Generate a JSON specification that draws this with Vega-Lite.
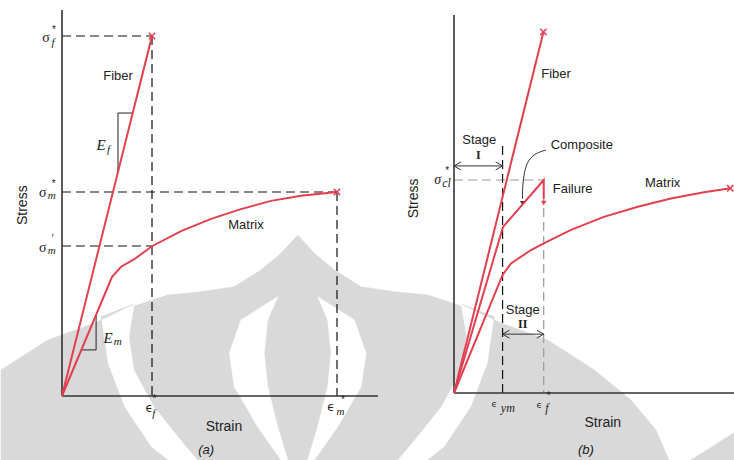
{
  "$schema": "https://vega.github.io/schema/vega-lite/v6.json",
  "padding": 0,
  "spacing": 0,
  "bounds": "flush",
  "background": "white",
  "config": {"view": {"stroke": null}},
  "datasets": {
    "wm_grey": [
      {"s": "body", "i": 0, "x": 49.35, "y": -17.78},
      {"s": "body", "i": 1, "x": 43.27, "y": -12.22},
      {"s": "body", "i": 2, "x": 33.56, "y": -2.97},
      {"s": "body", "i": 3, "x": 26.29, "y": 7.22},
      {"s": "body", "i": 4, "x": 24.47, "y": 16.47},
      {"s": "body", "i": 5, "x": 26.29, "y": 25.0},
      {"s": "body", "i": 6, "x": 38.44, "y": 28.06},
      {"s": "body", "i": 7, "x": 50.55, "y": 28.97},
      {"s": "body", "i": 8, "x": 62.65, "y": 30.36},
      {"s": "body", "i": 9, "x": 72.36, "y": 35.0},
      {"s": "body", "i": 10, "x": 79.64, "y": 39.64},
      {"s": "body", "i": 11, "x": 85.71, "y": 44.72},
      {"s": "body", "i": 12, "x": 91.78, "y": 39.64},
      {"s": "body", "i": 13, "x": 99.05, "y": 35.0},
      {"s": "body", "i": 14, "x": 108.76, "y": 30.36},
      {"s": "body", "i": 15, "x": 120.87, "y": 28.97},
      {"s": "body", "i": 16, "x": 132.98, "y": 28.06},
      {"s": "body", "i": 17, "x": 145.13, "y": 25.0},
      {"s": "body", "i": 18, "x": 146.95, "y": 16.47},
      {"s": "body", "i": 19, "x": 145.13, "y": 7.22},
      {"s": "body", "i": 20, "x": 137.85, "y": -2.97},
      {"s": "body", "i": 21, "x": 128.15, "y": -12.22},
      {"s": "body", "i": 22, "x": 122.07, "y": -17.78},
      {"s": "lwing", "i": 0, "x": 26.18, "y": 25.56},
      {"s": "lwing", "i": 1, "x": 11.85, "y": 20.28},
      {"s": "lwing", "i": 2, "x": -5.16, "y": 15.56},
      {"s": "lwing", "i": 3, "x": -22.18, "y": 7.22},
      {"s": "lwing", "i": 4, "x": -22.18, "y": -17.78},
      {"s": "lwing", "i": 5, "x": 38.44, "y": -17.78},
      {"s": "lwing", "i": 6, "x": 32.36, "y": -14.08},
      {"s": "lwing", "i": 7, "x": 22.65, "y": -2.97},
      {"s": "lwing", "i": 8, "x": 16.62, "y": 9.08},
      {"s": "lwing", "i": 9, "x": 14.18, "y": 22.03},
      {"s": "rwing", "i": 0, "x": 145.24, "y": 25.56},
      {"s": "rwing", "i": 1, "x": 159.56, "y": 20.28},
      {"s": "rwing", "i": 2, "x": 176.58, "y": 15.56},
      {"s": "rwing", "i": 3, "x": 193.6, "y": 7.22},
      {"s": "rwing", "i": 4, "x": 206.91, "y": -1.11},
      {"s": "rwing", "i": 5, "x": 216.0, "y": -9.44},
      {"s": "rwing", "i": 6, "x": 220.73, "y": -17.78},
      {"s": "rwing", "i": 7, "x": 132.98, "y": -17.78},
      {"s": "rwing", "i": 8, "x": 139.05, "y": -14.08},
      {"s": "rwing", "i": 9, "x": 148.76, "y": -2.97},
      {"s": "rwing", "i": 10, "x": 154.8, "y": 9.08},
      {"s": "rwing", "i": 11, "x": 157.24, "y": 22.03},
      {"s": "corner", "i": 0, "x": 228.7, "y": -17.78},
      {"s": "corner", "i": 1, "x": 244.73, "y": -10.0},
      {"s": "corner", "i": 2, "x": 244.73, "y": -17.78}
    ],
    "wm_white": [
      {"s": "llens", "i": 0, "x": 78.44, "y": 27.58},
      {"s": "llens", "i": 1, "x": 65.09, "y": 21.11},
      {"s": "llens", "i": 2, "x": 60.84, "y": 11.86},
      {"s": "llens", "i": 3, "x": 62.65, "y": 2.58},
      {"s": "llens", "i": 4, "x": 71.16, "y": -8.53},
      {"s": "llens", "i": 5, "x": 79.64, "y": -17.78},
      {"s": "llens", "i": 6, "x": 82.07, "y": -17.78},
      {"s": "llens", "i": 7, "x": 78.44, "y": -8.53},
      {"s": "llens", "i": 8, "x": 74.8, "y": 2.58},
      {"s": "llens", "i": 9, "x": 73.56, "y": 11.86},
      {"s": "llens", "i": 10, "x": 74.8, "y": 21.11},
      {"s": "rlens", "i": 0, "x": 92.98, "y": 27.58},
      {"s": "rlens", "i": 1, "x": 106.33, "y": 21.11},
      {"s": "rlens", "i": 2, "x": 110.58, "y": 11.86},
      {"s": "rlens", "i": 3, "x": 108.76, "y": 2.58},
      {"s": "rlens", "i": 4, "x": 100.25, "y": -8.53},
      {"s": "rlens", "i": 5, "x": 91.78, "y": -17.78},
      {"s": "rlens", "i": 6, "x": 89.35, "y": -17.78},
      {"s": "rlens", "i": 7, "x": 92.98, "y": -8.53},
      {"s": "rlens", "i": 8, "x": 96.62, "y": 2.58},
      {"s": "rlens", "i": 9, "x": 97.85, "y": 11.86},
      {"s": "rlens", "i": 10, "x": 96.62, "y": 21.11}
    ],
    "a_axes": [
      {"x": 0, "y": 0, "x2": 0, "y2": 107.2},
      {"x": 0, "y": 0, "x2": 114.9, "y2": 0}
    ],
    "a_dash": [
      {"x": 0, "y": 100, "x2": 32.73, "y2": 100},
      {"x": 32.73, "y": 100, "x2": 32.73, "y2": 0},
      {"x": 0, "y": 56.67, "x2": 100, "y2": 56.67},
      {"x": 100, "y": 56.67, "x2": 100, "y2": 0},
      {"x": 0, "y": 41.67, "x2": 32.73, "y2": 41.67}
    ],
    "a_red": [
      {"s": "fiber", "i": 0, "x": 0, "y": 0},
      {"s": "fiber", "i": 1, "x": 32.73, "y": 100},
      {"s": "matrix", "i": 0, "x": 0, "y": 0},
      {"s": "matrix", "i": 1, "x": 18.2, "y": 33.1},
      {"s": "matrix", "i": 2, "x": 21.5, "y": 35.9},
      {"s": "matrix", "i": 3, "x": 26.3, "y": 38.0},
      {"s": "matrix", "i": 4, "x": 32.7, "y": 41.6},
      {"s": "matrix", "i": 5, "x": 43.3, "y": 45.8},
      {"s": "matrix", "i": 6, "x": 54.2, "y": 49.2},
      {"s": "matrix", "i": 7, "x": 65.1, "y": 51.9},
      {"s": "matrix", "i": 8, "x": 76.0, "y": 54.2},
      {"s": "matrix", "i": 9, "x": 86.9, "y": 55.6},
      {"s": "matrix", "i": 10, "x": 100, "y": 56.67}
    ],
    "a_tri": [
      {"s": "ef", "i": 0, "x": 20.36, "y": 62.2},
      {"s": "ef", "i": 1, "x": 20.36, "y": 78.6},
      {"s": "ef", "i": 2, "x": 25.7, "y": 78.6},
      {"s": "em", "i": 0, "x": 7.03, "y": 12.8},
      {"s": "em", "i": 1, "x": 12.4, "y": 12.8},
      {"s": "em", "i": 2, "x": 12.4, "y": 22.5}
    ],
    "a_ends": [
      {"x": 32.73, "y": 100},
      {"x": 100, "y": 56.67}
    ],
    "a_text": [
      {"k": "lab", "t": "Fiber", "x": 20.4, "y": 88.9},
      {"k": "lab", "t": "Matrix", "x": 66.9, "y": 47.5},
      {"k": "big", "t": "Strain", "x": 58.9, "y": -8.6},
      {"k": "rot", "t": "Stress", "x": -14.3, "y": 53.0},
      {"k": "cap", "t": "(a)", "x": 52.4, "y": -15.0},
      {"k": "sym", "t": "σ", "x": -5.82, "y": 99.44},
      {"k": "sym", "t": "σ", "x": -7.02, "y": 56.3},
      {"k": "sym", "t": "σ", "x": -7.02, "y": 41.03},
      {"k": "eps", "t": "ϵ", "x": 31.75, "y": -3.2},
      {"k": "eps", "t": "ϵ", "x": 97.8, "y": -3.06},
      {"k": "isym", "t": "E", "x": 14.2, "y": 69.7},
      {"k": "isym", "t": "E", "x": 16.8, "y": 16.0},
      {"k": "sub", "t": "f", "x": -3.27, "y": 98.06},
      {"k": "sub", "t": "m", "x": -3.75, "y": 55.56},
      {"k": "sub", "t": "m", "x": -3.75, "y": 40.36},
      {"k": "sub", "t": "f", "x": 33.35, "y": -5.0},
      {"k": "sub", "t": "m", "x": 101.3, "y": -4.44},
      {"k": "sub", "t": "f", "x": 16.9, "y": 68.4},
      {"k": "sub", "t": "m", "x": 20.3, "y": 15.1},
      {"k": "sup", "t": "*", "x": -2.91, "y": 101.6},
      {"k": "sup", "t": "*", "x": -3.02, "y": 58.8},
      {"k": "sup", "t": "'", "x": -3.38, "y": 43.7},
      {"k": "sup", "t": "*", "x": 33.6, "y": -0.9},
      {"k": "sup", "t": "*", "x": 102.2, "y": -1.1}
    ],
    "b_axes": [
      {"x": 0, "y": 0, "x2": 0, "y2": 104.7},
      {"x": 0, "y": 0, "x2": 101.8, "y2": 0}
    ],
    "b_dash_black": [
      {"x": 17.6, "y": 68.4, "x2": 17.6, "y2": 0}
    ],
    "b_dash_grey": [
      {"x": 0, "y": 59.0, "x2": 32.5, "y2": 59.0},
      {"x": 32.5, "y": 59.0, "x2": 32.5, "y2": 0}
    ],
    "b_red": [
      {"s": "fiber", "i": 0, "x": 0, "y": 0},
      {"s": "fiber", "i": 1, "x": 32.4, "y": 100},
      {"s": "matrix", "i": 0, "x": 0, "y": 0},
      {"s": "matrix", "i": 1, "x": 17.6, "y": 32.7},
      {"s": "matrix", "i": 2, "x": 20.65, "y": 35.9},
      {"s": "matrix", "i": 3, "x": 27.9, "y": 39.6},
      {"s": "matrix", "i": 4, "x": 32.7, "y": 41.5},
      {"s": "matrix", "i": 5, "x": 42.4, "y": 45.2},
      {"s": "matrix", "i": 6, "x": 54.3, "y": 48.8},
      {"s": "matrix", "i": 7, "x": 66.6, "y": 51.6},
      {"s": "matrix", "i": 8, "x": 78.6, "y": 53.9},
      {"s": "matrix", "i": 9, "x": 90.6, "y": 55.6},
      {"s": "matrix", "i": 10, "x": 100.1, "y": 56.7},
      {"s": "composite", "i": 0, "x": 0, "y": 0},
      {"s": "composite", "i": 1, "x": 17.75, "y": 46.0},
      {"s": "composite", "i": 2, "x": 32.5, "y": 59.0},
      {"s": "composite", "i": 3, "x": 32.5, "y": 53.8}
    ],
    "b_ends": [
      {"x": 32.4, "y": 100},
      {"x": 100.1, "y": 56.7}
    ],
    "b_redhead": [
      {"x": 32.5, "y": 52.6}
    ],
    "b_arrows": [
      {"s": "s1", "i": 0, "x": 0, "y": 62.9},
      {"s": "s1", "i": 1, "x": 17.6, "y": 62.9},
      {"s": "s1l", "i": 0, "x": 2.5, "y": 64.0},
      {"s": "s1l", "i": 1, "x": 0, "y": 62.9},
      {"s": "s1l", "i": 2, "x": 2.5, "y": 61.8},
      {"s": "s1r", "i": 0, "x": 15.1, "y": 64.0},
      {"s": "s1r", "i": 1, "x": 17.6, "y": 62.9},
      {"s": "s1r", "i": 2, "x": 15.1, "y": 61.8},
      {"s": "s2", "i": 0, "x": 17.6, "y": 16.3},
      {"s": "s2", "i": 1, "x": 32.5, "y": 16.3},
      {"s": "s2l", "i": 0, "x": 20.1, "y": 17.4},
      {"s": "s2l", "i": 1, "x": 17.6, "y": 16.3},
      {"s": "s2l", "i": 2, "x": 20.1, "y": 15.2},
      {"s": "s2r", "i": 0, "x": 30.0, "y": 17.4},
      {"s": "s2r", "i": 1, "x": 32.5, "y": 16.3},
      {"s": "s2r", "i": 2, "x": 30.0, "y": 15.2}
    ],
    "b_curve": [
      {"i": 0, "x": 33.3, "y": 67.3},
      {"i": 1, "x": 29.7, "y": 66.5},
      {"i": 2, "x": 26.8, "y": 64.5},
      {"i": 3, "x": 25.4, "y": 61.2},
      {"i": 4, "x": 24.8, "y": 56.8},
      {"i": 5, "x": 24.8, "y": 53.8}
    ],
    "b_curvehead": [
      {"x": 24.8, "y": 52.6}
    ],
    "b_text": [
      {"k": "lab", "t": "Fiber", "x": 36.96, "y": 88.4},
      {"k": "lab", "t": "Composite", "x": 46.3, "y": 68.7},
      {"k": "lab", "t": "Failure", "x": 43.0, "y": 56.5},
      {"k": "lab", "t": "Matrix", "x": 75.6, "y": 58.3},
      {"k": "lab", "t": "Stage", "x": 9.17, "y": 70.1},
      {"k": "lab", "t": "Stage", "x": 24.9, "y": 23.0},
      {"k": "num", "t": "I", "x": 8.8, "y": 65.9},
      {"k": "num", "t": "II", "x": 24.9, "y": 19.0},
      {"k": "big", "t": "Strain", "x": 53.9, "y": -8.2},
      {"k": "rot", "t": "Stress", "x": -14.4, "y": 53.9},
      {"k": "cap", "t": "(b)", "x": 47.8, "y": -15.8},
      {"k": "isym", "t": "σ", "x": -5.9, "y": 59.0},
      {"k": "eps", "t": "ϵ", "x": 14.6, "y": -3.05},
      {"k": "eps", "t": "ϵ", "x": 30.9, "y": -3.3},
      {"k": "sub", "t": "cl", "x": -2.7, "y": 58.1},
      {"k": "sub", "t": "ym", "x": 19.5, "y": -4.2},
      {"k": "sub", "t": "f", "x": 33.7, "y": -4.2},
      {"k": "sup", "t": "*", "x": -2.5, "y": 61.4},
      {"k": "sup", "t": "*", "x": 34.3, "y": -0.9}
    ]
  },
  "hconcat": [
    {
      "width": 385,
      "height": 460,
      "encoding": {
        "x": {"field": "x", "type": "quantitative", "scale": {"domain": [-22.18, 117.82], "nice": false, "zero": false}, "axis": null},
        "y": {"field": "y", "type": "quantitative", "scale": {"domain": [-17.78, 110], "nice": false, "zero": false}, "axis": null}
      },
      "layer": [
        {"data": {"name": "wm_grey"}, "mark": {"type": "line", "interpolate": "linear-closed", "fill": "#d9d9d9", "stroke": "#d9d9d9", "strokeWidth": 0.5}, "encoding": {"detail": {"field": "s"}, "order": {"field": "i"}}},
        {"data": {"name": "wm_white"}, "mark": {"type": "line", "interpolate": "linear-closed", "fill": "#ffffff", "stroke": "#ffffff", "strokeWidth": 0.5}, "encoding": {"detail": {"field": "s"}, "order": {"field": "i"}}},
        {"data": {"name": "a_dash"}, "mark": {"type": "rule", "color": "#111", "strokeWidth": 1.2, "strokeDash": [9, 5]}, "encoding": {"x2": {"field": "x2"}, "y2": {"field": "y2"}}},
        {"data": {"name": "a_axes"}, "mark": {"type": "rule", "color": "#333", "strokeWidth": 1.6}, "encoding": {"x2": {"field": "x2"}, "y2": {"field": "y2"}}},
        {"data": {"name": "a_tri"}, "mark": {"type": "line", "color": "#222", "strokeWidth": 1}, "encoding": {"detail": {"field": "s"}, "order": {"field": "i"}}},
        {"data": {"name": "a_red"}, "mark": {"type": "line", "color": "#e0404f", "strokeWidth": 2}, "encoding": {"detail": {"field": "s"}, "order": {"field": "i"}}},
        {"data": {"name": "a_ends"}, "mark": {"type": "point", "shape": "M-1,-1L1,1M-1,1L1,-1", "size": 40, "color": "#e0404f", "strokeWidth": 1.5, "filled": false, "opacity": 1}},
        {"data": {"name": "a_text"}, "transform": [{"filter": "datum.k === 'lab'"}], "mark": {"type": "text", "font": "Liberation Sans", "fontSize": 13, "color": "#222"}, "encoding": {"text": {"field": "t"}}},
        {"data": {"name": "a_text"}, "transform": [{"filter": "datum.k === 'big'"}], "mark": {"type": "text", "font": "Liberation Sans", "fontSize": 14, "color": "#222"}, "encoding": {"text": {"field": "t"}}},
        {"data": {"name": "a_text"}, "transform": [{"filter": "datum.k === 'rot'"}], "mark": {"type": "text", "font": "Liberation Sans", "fontSize": 14, "color": "#222", "angle": 270}, "encoding": {"text": {"field": "t"}}},
        {"data": {"name": "a_text"}, "transform": [{"filter": "datum.k === 'cap'"}], "mark": {"type": "text", "font": "Liberation Sans", "fontStyle": "italic", "fontSize": 13, "color": "#222"}, "encoding": {"text": {"field": "t"}}},
        {"data": {"name": "a_text"}, "transform": [{"filter": "datum.k === 'sym'"}], "mark": {"type": "text", "font": "Liberation Serif", "fontSize": 14, "color": "#222"}, "encoding": {"text": {"field": "t"}}},
        {"data": {"name": "a_text"}, "transform": [{"filter": "datum.k === 'eps'"}], "mark": {"type": "text", "font": "DejaVu Sans", "fontSize": 12, "color": "#222"}, "encoding": {"text": {"field": "t"}}},
        {"data": {"name": "a_text"}, "transform": [{"filter": "datum.k === 'isym'"}], "mark": {"type": "text", "font": "Liberation Serif", "fontStyle": "italic", "fontSize": 15, "color": "#222"}, "encoding": {"text": {"field": "t"}}},
        {"data": {"name": "a_text"}, "transform": [{"filter": "datum.k === 'sub'"}], "mark": {"type": "text", "font": "Liberation Serif", "fontStyle": "italic", "fontSize": 11, "color": "#222"}, "encoding": {"text": {"field": "t"}}},
        {"data": {"name": "a_text"}, "transform": [{"filter": "datum.k === 'sup'"}], "mark": {"type": "text", "font": "Liberation Sans", "fontSize": 10, "color": "#222"}, "encoding": {"text": {"field": "t"}}}
      ]
    },
    {
      "width": 349,
      "height": 460,
      "encoding": {
        "x": {"field": "x", "type": "quantitative", "scale": {"domain": [-24.64, 101.81], "nice": false, "zero": false}, "axis": null},
        "y": {"field": "y", "type": "quantitative", "scale": {"domain": [-18.56, 108.86], "nice": false, "zero": false}, "axis": null}
      },
      "layer": [
        {"data": {"name": "b_dash_grey"}, "mark": {"type": "rule", "color": "#999", "strokeWidth": 1.2, "strokeDash": [9, 5]}, "encoding": {"x2": {"field": "x2"}, "y2": {"field": "y2"}}},
        {"data": {"name": "b_dash_black"}, "mark": {"type": "rule", "color": "#111", "strokeWidth": 1.2, "strokeDash": [9, 5]}, "encoding": {"x2": {"field": "x2"}, "y2": {"field": "y2"}}},
        {"data": {"name": "b_axes"}, "mark": {"type": "rule", "color": "#333", "strokeWidth": 1.6}, "encoding": {"x2": {"field": "x2"}, "y2": {"field": "y2"}}},
        {"data": {"name": "b_arrows"}, "mark": {"type": "line", "color": "#333", "strokeWidth": 1}, "encoding": {"detail": {"field": "s"}, "order": {"field": "i"}}},
        {"data": {"name": "b_curve"}, "mark": {"type": "line", "color": "#333", "strokeWidth": 1, "interpolate": "basis"}, "encoding": {"order": {"field": "i"}}},
        {"data": {"name": "b_curvehead"}, "mark": {"type": "point", "shape": "triangle-down", "size": 25, "color": "#333", "filled": true, "opacity": 1}},
        {"data": {"name": "b_red"}, "mark": {"type": "line", "color": "#e0404f", "strokeWidth": 2}, "encoding": {"detail": {"field": "s"}, "order": {"field": "i"}}},
        {"data": {"name": "b_redhead"}, "mark": {"type": "point", "shape": "triangle-down", "size": 30, "color": "#e0404f", "filled": true, "opacity": 1}},
        {"data": {"name": "b_ends"}, "mark": {"type": "point", "shape": "M-1,-1L1,1M-1,1L1,-1", "size": 40, "color": "#e0404f", "strokeWidth": 1.5, "filled": false, "opacity": 1}},
        {"data": {"name": "b_text"}, "transform": [{"filter": "datum.k === 'lab'"}], "mark": {"type": "text", "font": "Liberation Sans", "fontSize": 13, "color": "#222"}, "encoding": {"text": {"field": "t"}}},
        {"data": {"name": "b_text"}, "transform": [{"filter": "datum.k === 'num'"}], "mark": {"type": "text", "font": "Liberation Serif", "fontWeight": "bold", "fontSize": 12, "color": "#222"}, "encoding": {"text": {"field": "t"}}},
        {"data": {"name": "b_text"}, "transform": [{"filter": "datum.k === 'big'"}], "mark": {"type": "text", "font": "Liberation Sans", "fontSize": 14, "color": "#222"}, "encoding": {"text": {"field": "t"}}},
        {"data": {"name": "b_text"}, "transform": [{"filter": "datum.k === 'rot'"}], "mark": {"type": "text", "font": "Liberation Sans", "fontSize": 14, "color": "#222", "angle": 270}, "encoding": {"text": {"field": "t"}}},
        {"data": {"name": "b_text"}, "transform": [{"filter": "datum.k === 'cap'"}], "mark": {"type": "text", "font": "Liberation Sans", "fontStyle": "italic", "fontSize": 13, "color": "#222"}, "encoding": {"text": {"field": "t"}}},
        {"data": {"name": "b_text"}, "transform": [{"filter": "datum.k === 'isym'"}], "mark": {"type": "text", "font": "Liberation Serif", "fontStyle": "italic", "fontSize": 14, "color": "#222"}, "encoding": {"text": {"field": "t"}}},
        {"data": {"name": "b_text"}, "transform": [{"filter": "datum.k === 'eps'"}], "mark": {"type": "text", "font": "DejaVu Sans", "fontSize": 9, "color": "#222"}, "encoding": {"text": {"field": "t"}}},
        {"data": {"name": "b_text"}, "transform": [{"filter": "datum.k === 'sub'"}], "mark": {"type": "text", "font": "Liberation Serif", "fontStyle": "italic", "fontSize": 12, "color": "#222"}, "encoding": {"text": {"field": "t"}}},
        {"data": {"name": "b_text"}, "transform": [{"filter": "datum.k === 'sup'"}], "mark": {"type": "text", "font": "Liberation Sans", "fontSize": 10, "color": "#222"}, "encoding": {"text": {"field": "t"}}}
      ]
    }
  ]
}
